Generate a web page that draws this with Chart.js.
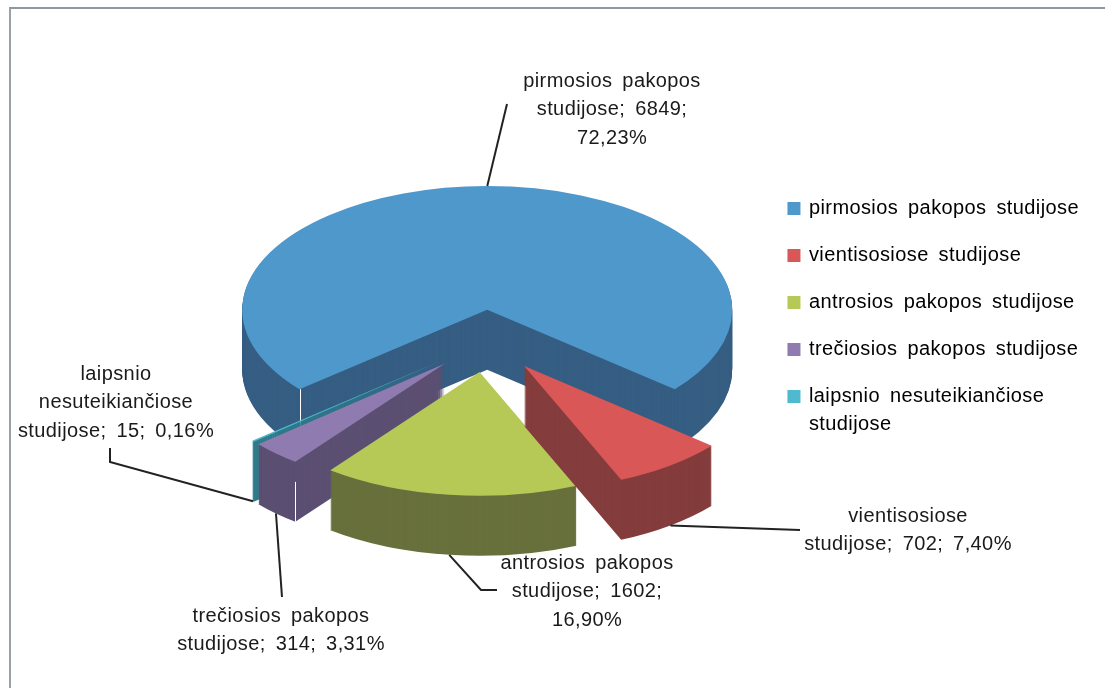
<!DOCTYPE html>
<html>
<head>
<meta charset="utf-8">
<title>Studijos</title>
<script src="https://cdn.jsdelivr.net/npm/chart.js@4"></script>
<style>
  html, body { margin: 0; padding: 0; background: #fff; overflow: hidden; }
  #wrap { position: relative; width: 1105px; height: 688px; }
  #frame { position: absolute; left: 9px; top: 7px; right: 0; bottom: 0;
    border-top: 2px solid #8f989c; border-left: 2px solid #98a1a6; }
  #pie { position: absolute; left: 0; top: 0; }
</style>
</head>
<body>
<div id="wrap">
  <div id="frame"></div>
  <canvas id="pie" width="1105" height="688"></canvas>
</div>
<script>
const categories = [
  "pirmosios pakopos studijose",
  "vientisosiose studijose",
  "antrosios pakopos studijose",
  "trečiosios pakopos studijose",
  "laipsnio nesuteikiančiose studijose",
];
const values = [6849, 702, 1602, 314, 15];
const legendLines = [
  ["pirmosios pakopos studijose"],
  ["vientisosiose studijose"],
  ["antrosios pakopos studijose"],
  ["trečiosios pakopos studijose"],
  ["laipsnio nesuteikiančiose", "studijose"],
];
const labelLines = [
  ["pirmosios pakopos", "studijose; 6849;", "72,23%"],
  ["vientisosiose", "studijose; 702; 7,40%"],
  ["antrosios pakopos", "studijose; 1602;", "16,90%"],
  ["trečiosios pakopos", "studijose; 314; 3,31%"],
  ["laipsnio", "nesuteikiančiose", "studijose; 15; 0,16%"],
];
const topColors = ["#4f98cb", "#d95757", "#b6c957", "#8f7bb0", "#4fb9d0"];
const sideColors = ["#365e83", "#843c3c", "#68703c", "#5b4f72", "#2f7a8a"];

// where each label sits and how its leader runs after leaving the slice
const labelPos = [[612, 81], [908, 516], [587, 563], [281, 616], [116, 374]];
const leaderRest = [
  [[507, 104]],
  [[800, 530]],
  [[481, 590], [497, 590]],
  [[282, 597]],
  [[110, 462], [110, 448]],
];

const squash = 0.505;
const depth = 60;
const explode = 62;
const radius = 245;
const paintOrder = [0, 4, 3, 2, 1];
const FONT = "'Liberation Sans', Arial, sans-serif";

function setSpacing(ctx) {
  ctx.wordSpacing = "4px";
  ctx.letterSpacing = "0.4px";
}

function midAngle(arc) {
  return (arc.startAngle + arc.endAngle) / 2;
}

// screen position of a point on the outer rim of an exploded slice
function rimPoint(arc, angle, drop) {
  const mid = midAngle(arc);
  const x = arc.x + Math.cos(mid) * explode + Math.cos(angle) * arc.outerRadius;
  const y = arc.y + (Math.sin(mid) * explode + Math.sin(angle) * arc.outerRadius) * squash + drop;
  return [x, y];
}

function paintArc(ctx, arc, color, drop) {
  const mid = midAngle(arc);
  ctx.save();
  ctx.translate(0, arc.y + drop);
  ctx.scale(1, squash);
  ctx.translate(0, -arc.y);
  ctx.translate(Math.cos(mid) * explode, Math.sin(mid) * explode);
  const keep = arc.options;
  arc.options = Object.assign({}, keep, { backgroundColor: color, borderColor: color, borderWidth: 0 });
  arc.draw(ctx);
  arc.options = keep;
  ctx.restore();
}

const pie3d = {
  id: "pie3d",
  beforeLayout(chart) {
    setSpacing(chart.ctx);
  },
  afterLayout(chart) {
    // legend block sits a bit above the middle in the original
    chart.legend.top -= 21;
    chart.legend.bottom -= 21;
  },
  beforeDraw(chart) {
    setSpacing(chart.ctx);
  },
  beforeDatasetsDraw(chart) {
    const ctx = chart.ctx;
    const arcs = chart.getDatasetMeta(0).data;
    paintOrder.forEach((i) => {
      const arc = arcs[i];
      for (let d = depth; d > 0; d--) paintArc(ctx, arc, sideColors[i], d);
      paintArc(ctx, arc, topColors[i], 0);
      // thin light edge on the corner of the biggest slice and the purple one
      if (i === 0 || i === 3) {
        const a = rimPoint(arc, arc.startAngle, i === 3 ? 20 : 0);
        const b = rimPoint(arc, arc.startAngle, depth);
        ctx.strokeStyle = "#fff";
        ctx.lineWidth = 1;
        ctx.beginPath();
        ctx.moveTo(Math.round(a[0]) + 0.5, a[1]);
        ctx.lineTo(Math.round(a[0]) + 0.5, b[1]);
        ctx.stroke();
      }
    });
    return false;
  },
  afterDraw(chart) {
    const ctx = chart.ctx;
    const arcs = chart.getDatasetMeta(0).data;
    ctx.save();
    ctx.strokeStyle = "#222";
    ctx.lineWidth = 2;
    arcs.forEach((arc, i) => {
      const start = rimPoint(arc, midAngle(arc), i === 0 ? 0 : depth);
      ctx.beginPath();
      ctx.moveTo(start[0], start[1]);
      leaderRest[i].forEach((p) => ctx.lineTo(p[0], p[1]));
      ctx.stroke();
    });
    ctx.fillStyle = "#1a1a1a";
    ctx.font = "20px " + FONT;
    ctx.textAlign = "center";
    ctx.textBaseline = "middle";
    labelLines.forEach((lines, i) => {
      lines.forEach((line, n) => {
        ctx.fillText(line, labelPos[i][0], labelPos[i][1] + n * 28.5);
      });
    });
    ctx.restore();
  },
};

new Chart(document.getElementById("pie"), {
  type: "pie",
  data: {
    labels: categories,
    datasets: [{ data: values, backgroundColor: topColors, borderWidth: 0 }],
  },
  options: {
    responsive: false,
    animation: false,
    rotation: -130,
    radius: radius,
    layout: { padding: { left: 205, right: 16, bottom: 6 } },
    plugins: {
      tooltip: { enabled: false },
      legend: {
        position: "right",
        labels: {
          boxWidth: 10,
          boxHeight: 10,
          padding: 19.6,
          color: "#1a1a1a",
          font: { family: FONT, size: 20, lineHeight: 1.37 },
          generateLabels(chart) {
            return legendLines.map((text, i) => ({
              text: text,
              fillStyle: topColors[i],
              strokeStyle: topColors[i],
              lineWidth: 3,
              index: i,
            }));
          },
        },
      },
    },
  },
  plugins: [pie3d],
});
</script>
</body>
</html>
